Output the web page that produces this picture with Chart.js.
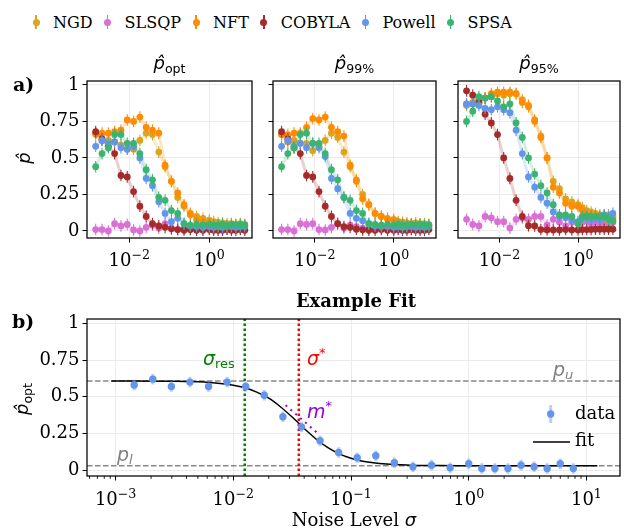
<!DOCTYPE html>
<html>
<head>
<meta charset="utf-8">
<script src="https://cdn.jsdelivr.net/npm/chart.js@4.4.0/dist/chart.umd.min.js"></script>
<style>
body { margin: 0; background: #fff; width: 624px; height: 531px; position: relative; overflow: hidden; font-family: 'DejaVu Serif', serif; }
canvas { position: absolute; }
#legend { position: absolute; left: 29px; top: 10px; height: 24px; display: flex; align-items: center; font-size: 16px; color: #000; }
.item { display: flex; align-items: center; margin-right: 8px; }
.mk { position: relative; width: 14px; height: 20px; margin-right: 10px; }
.mk::before { content: ''; position: absolute; left: 6.3px; top: 3px; width: 1.4px; height: 14px; background: var(--c); }
.mk::after { content: ''; position: absolute; left: 3.5px; top: 6.5px; width: 7px; height: 7px; border-radius: 50%; background: var(--c); }
</style>
</head>
<body>
<div id="legend"></div>
<canvas id="c1" width="256" height="230" style="left:0;top:40px"></canvas>
<canvas id="c2" width="182" height="230" style="left:258px;top:40px"></canvas>
<canvas id="c3" width="181" height="230" style="left:443px;top:40px"></canvas>
<canvas id="c4" width="624" height="251" style="left:0;top:280px"></canvas>
<script>
// noise levels (same grid for every panel)
const sigma = [0.001438, 0.002069, 0.002976, 0.004281, 0.006158, 0.008859, 0.01274, 0.01833, 0.02637,
  0.03793, 0.05456, 0.07848, 0.1129, 0.1624, 0.2336, 0.336, 0.4833, 0.6952, 1,
  1.292, 1.668, 2.154, 2.783, 3.594, 4.642, 5.995, 7.743];

const methods = ['NGD', 'SLSQP', 'NFT', 'COBYLA', 'Powell', 'SPSA'];
const colors = ['#DAA520', '#DA70D6', '#FF8C00', '#A52A2A', '#6495ED', '#3CB371'];
const titles = ['opt', '99%', '95%'];

// p_opt
const optNGD = [0.66, 0.62, 0.62, 0.61, 0.59, 0.56, 0.56, 0.62, 0.67, 0.66, 0.54, 0.44, 0.34, 0.23, 0.17, 0.11, 0.10, 0.087, 0.075, 0.064, 0.058, 0.055, 0.05, 0.05, 0.045, 0.05, 0.045];
const optSLSQP = [0.01, 0.01, 0.0, 0.05, 0.035, 0.045, 0.007, 0.0, 0.025, 0.04, 0.02, 0.05, 0.02, 0.01, 0.015, 0.01, 0.02, 0.015, 0.02, 0.01, 0.015, 0.02, 0.015, 0.01, 0.02, 0.015, 0.01];
const optNFT = [0.67, 0.67, 0.67, 0.68, 0.69, 0.76, 0.75, 0.78, 0.71, 0.69, 0.67, 0.45, 0.34, 0.26, 0.18, 0.12, 0.075, 0.064, 0.05, 0.045, 0.04, 0.04, 0.035, 0.04, 0.035, 0.04, 0.035];
const optCOBYLA = [0.68, 0.63, 0.58, 0.53, 0.38, 0.37, 0.27, 0.17, 0.10, 0.05, 0.035, 0.025, 0.015, 0.01, 0.005, 0.01, 0.005, 0.005, 0.01, 0.005, 0.005, 0.005, 0.01, 0.005, 0.005, 0.01, 0.005];
const optPowell = [0.58, 0.62, 0.60, 0.61, 0.57, 0.56, 0.58, 0.50, 0.36, 0.31, 0.20, 0.12, 0.064, 0.087, 0.05, 0.035, 0.03, 0.025, 0.03, 0.025, 0.03, 0.025, 0.03, 0.03, 0.025, 0.03, 0.03];
const optSPSA = [0.44, 0.53, 0.57, 0.66, 0.66, 0.60, 0.60, 0.53, 0.42, 0.35, 0.23, 0.21, 0.14, 0.12, 0.05, 0.04, 0.045, 0.04, 0.045, 0.04, 0.04, 0.045, 0.035, 0.045, 0.04, 0.045, 0.04];

// p_99%
const p99NGD = [0.66, 0.61, 0.62, 0.60, 0.60, 0.55, 0.58, 0.62, 0.67, 0.64, 0.54, 0.44, 0.35, 0.25, 0.18, 0.12, 0.10, 0.087, 0.08, 0.065, 0.06, 0.055, 0.05, 0.055, 0.05, 0.05, 0.045];
const p99SLSQP = [0.01, 0.01, 0.0, 0.05, 0.045, 0.05, 0.01, 0.007, 0.025, 0.05, 0.02, 0.04, 0.03, 0.02, 0.015, 0.02, 0.015, 0.02, 0.01, 0.015, 0.02, 0.015, 0.01, 0.02, 0.015, 0.01, 0.02];
const p99NFT = [0.66, 0.66, 0.67, 0.67, 0.71, 0.77, 0.76, 0.78, 0.71, 0.68, 0.65, 0.45, 0.34, 0.22, 0.18, 0.12, 0.10, 0.08, 0.07, 0.055, 0.05, 0.045, 0.045, 0.04, 0.045, 0.04, 0.04];
const p99COBYLA = [0.68, 0.63, 0.57, 0.53, 0.38, 0.37, 0.27, 0.17, 0.10, 0.05, 0.03, 0.025, 0.012, 0.008, 0.005, 0.005, 0.01, 0.005, 0.005, 0.01, 0.005, 0.005, 0.01, 0.005, 0.005, 0.005, 0.01];
const p99Powell = [0.58, 0.62, 0.58, 0.60, 0.57, 0.60, 0.57, 0.51, 0.36, 0.29, 0.23, 0.12, 0.087, 0.07, 0.05, 0.035, 0.03, 0.03, 0.025, 0.03, 0.025, 0.03, 0.03, 0.025, 0.03, 0.025, 0.03];
const p99SPSA = [0.44, 0.53, 0.57, 0.66, 0.67, 0.60, 0.60, 0.53, 0.42, 0.35, 0.23, 0.21, 0.14, 0.12, 0.05, 0.045, 0.04, 0.045, 0.04, 0.045, 0.04, 0.04, 0.045, 0.04, 0.045, 0.04, 0.04];

// p_95%
const p95NGD = [0.86, 0.87, 0.88, 0.91, 0.92, 0.94, 0.93, 0.94, 0.94, 0.90, 0.85, 0.75, 0.65, 0.50, 0.34, 0.29, 0.22, 0.20, 0.18, 0.16, 0.14, 0.13, 0.12, 0.11, 0.11, 0.11, 0.10];
const p95SLSQP = [0.08, 0.045, 0.035, 0.10, 0.09, 0.064, 0.064, 0.02, 0.08, 0.09, 0.08, 0.10, 0.10, 0.04, 0.08, 0.06, 0.035, 0.06, 0.05, 0.06, 0.07, 0.05, 0.06, 0.05, 0.06, 0.05, 0.06];
const p95NFT = [0.87, 0.88, 0.90, 0.91, 0.94, 0.95, 0.95, 0.95, 0.94, 0.88, 0.86, 0.76, 0.64, 0.50, 0.30, 0.26, 0.19, 0.17, 0.17, 0.14, 0.11, 0.10, 0.09, 0.09, 0.085, 0.09, 0.085];
const p95COBYLA = [0.96, 0.93, 0.88, 0.80, 0.74, 0.66, 0.50, 0.36, 0.21, 0.10, 0.036, 0.034, 0.01, 0.007, 0.007, 0.007, 0.01, 0.007, 0.007, 0.01, 0.01, 0.01, 0.012, 0.012, 0.012, 0.012, 0.012];
const p95Powell = [0.87, 0.87, 0.86, 0.84, 0.83, 0.85, 0.83, 0.81, 0.69, 0.53, 0.37, 0.30, 0.23, 0.19, 0.13, 0.10, 0.09, 0.075, 0.064, 0.087, 0.10, 0.075, 0.087, 0.075, 0.11, 0.10, 0.12];
const p95SPSA = [0.75, 0.82, 0.92, 0.91, 0.92, 0.89, 0.85, 0.87, 0.74, 0.64, 0.50, 0.39, 0.31, 0.26, 0.18, 0.11, 0.11, 0.10, 0.05, 0.10, 0.10, 0.10, 0.10, 0.10, 0.10, 0.08, 0.07];

const topErr = 0.04;

// example fit (Powell, p_opt)
const fitData = [0.58, 0.62, 0.57, 0.60, 0.57, 0.60, 0.57, 0.51, 0.364, 0.295, 0.20, 0.12, 0.084, 0.098, 0.05, 0.023, 0.034, 0.016, 0.043, 0.011, 0.011, 0.011, 0.034, 0.023, 0.011, 0.043, 0.011];
const fitErr = 0.036;
const fitSigma = [0.00092, 0.00316, 0.00562, 0.01, 0.0126, 0.0158, 0.02, 0.0251, 0.0316, 0.036, 0.0398, 0.0501, 0.0631, 0.0794, 0.1, 0.126, 0.2, 0.316, 0.562, 1, 3.16, 12.4];
const fitCurve = [0.608, 0.606, 0.600, 0.579, 0.561, 0.532, 0.49, 0.432, 0.362, 0.319, 0.285, 0.214, 0.155, 0.111, 0.081, 0.061, 0.041, 0.034, 0.031, 0.0305, 0.030, 0.030];
const pUpper = 0.608;
const pLower = 0.03;
const sigmaRes = 0.0125;
const sigmaStar = 0.036;
const slopeSigma = [0.0278, 0.0531];
const slopeP = [0.443, 0.245];

const yTicks = [0, 0.25, 0.5, 0.75, 1];
const yTickText = ['0', '0.25', '0.5', '0.75', '1'];
const topXTicks = [0.01, 1];
const bottomXTicks = [0.001, 0.01, 0.1, 1, 10];

const expOf = v => String(Math.round(Math.log10(v))).replace('-', '\u2212');
const fade = (hex, a) => { const n = parseInt(hex.slice(1), 16); return `rgba(${n >> 16},${(n >> 8) & 255},${n & 255},${a})`; };

const tickFont = { family: 'DejaVu Serif', size: 18 };
const gridColor = '#ebebeb';
const SANS = '"DejaVu Sans"';
const SERIF = '"DejaVu Serif"';

// legend (html)
const legendEl = document.getElementById('legend');
methods.forEach((m, i) => {
  const it = document.createElement('div');
  it.className = 'item';
  it.innerHTML = `<span class="mk" style="--c:${colors[i]}"></span><span>${m}</span>`;
  legendEl.appendChild(it);
});

function mathText(ctx, x, y, parts, align) {
  let w = 0;
  parts.forEach(p => { ctx.font = p[1]; w += ctx.measureText(p[0]).width; });
  let cx = align === 'center' ? x - w / 2 : x;
  ctx.textAlign = 'left';
  ctx.textBaseline = 'alphabetic';
  parts.forEach(p => { ctx.font = p[1]; ctx.fillText(p[0], cx, y + p[2]); cx += ctx.measureText(p[0]).width; });
}

// power-of-ten labels under the x axis
function powerLabels(chart, values, baseline) {
  const ctx = chart.ctx;
  ctx.save();
  ctx.fillStyle = '#000';
  values.forEach(v => {
    const px = chart.scales.x.getPixelForValue(v);
    mathText(ctx, px, baseline, [['10', `18px ${SERIF}`, 0], [expOf(v), `12.6px ${SERIF}`, -6.8]], 'center');
  });
  ctx.restore();
}

const errorBars = {
  id: 'errorBars',
  beforeDatasetDraw(chart, args) {
    const ds = chart.data.datasets[args.index];
    if (!ds.errors) return;
    const y = chart.scales.y, ctx = chart.ctx;
    ctx.save();
    ctx.strokeStyle = ds.errColor;
    ctx.lineWidth = ds.errWidth;
    args.meta.data.forEach((pt, i) => {
      const v = ds.data[i].y, e = ds.errors[i];
      ctx.beginPath();
      ctx.moveTo(pt.x, y.getPixelForValue(v - e));
      ctx.lineTo(pt.x, y.getPixelForValue(v + e));
      ctx.stroke();
    });
    ctx.restore();
  }
};

const frame = {
  id: 'frame',
  afterDraw(chart) {
    const { ctx, chartArea: a } = chart;
    ctx.save();
    ctx.strokeStyle = '#000';
    ctx.lineWidth = 1.25;
    ctx.strokeRect(a.left, a.top, a.right - a.left, a.bottom - a.top);
    ctx.restore();
  }
};

function topChart(id, series, sub, first, padRight) {
  const deco = {
    id: 'deco',
    afterDraw(chart) {
      const { ctx, chartArea: a } = chart;
      powerLabels(chart, topXTicks, 225.7);
      ctx.save();
      ctx.fillStyle = '#000';
      mathText(ctx, (a.left + a.right) / 2, 29, [['p\u0302', `italic 18px ${SANS}`, 0], [sub, `12.6px ${SANS}`, 3.5]], 'center');
      if (first) {
        ctx.font = `bold 19px ${SERIF}`;
        ctx.textBaseline = 'middle';
        ctx.fillText('a)', 13, 46);
        ctx.translate(29.5, 118);
        ctx.rotate(-Math.PI / 2);
        mathText(ctx, 0, 0, [['p\u0302', `italic 18px ${SANS}`, 0]], 'center');
      }
      ctx.restore();
    }
  };
  return new Chart(document.getElementById(id), {
    type: 'line',
    data: {
      datasets: methods.map((m, i) => ({
        label: m,
        data: sigma.map((s, k) => ({ x: s, y: series[i][k] })),
        errors: sigma.map(() => topErr),
        errColor: colors[i],
        errWidth: 1.1,
        borderColor: fade(colors[i], 0.22),
        borderWidth: 3,
        pointBackgroundColor: colors[i],
        pointBorderWidth: 0,
        pointRadius: 3.4,
        order: methods.length - i
      }))
    },
    options: {
      responsive: false,
      animation: false,
      events: [],
      layout: { padding: { top: 41, right: padRight, left: 0, bottom: 0 } },
      plugins: { legend: { display: false }, tooltip: { enabled: false } },
      scales: {
        x: {
          type: 'logarithmic', min: 8.71e-4, max: 11.75,
          afterBuildTicks: s => { s.ticks = topXTicks.map(v => ({ value: v })); },
          afterFit: s => { s.height = 32; },
          ticks: { display: false },
          grid: { color: gridColor, tickColor: '#000', tickLength: 4.5 },
          border: { display: false }
        },
        y: {
          min: -0.048, max: 1.027,
          afterBuildTicks: s => { s.ticks = yTicks.map(v => ({ value: v })); },
          afterFit: s => { s.width = first ? 87 : 15; },
          ticks: { font: tickFont, color: '#000', padding: 3, callback: (v, i) => first ? yTickText[i] : '' },
          grid: { color: gridColor, tickColor: '#000', tickLength: 4.5 },
          border: { display: false }
        }
      }
    },
    plugins: [errorBars, frame, deco]
  });
}

topChart('c1', [optNGD, optSLSQP, optNFT, optCOBYLA, optPowell, optSPSA], titles[0], true, 3);
topChart('c2', [p99NGD, p99SLSQP, p99NFT, p99COBYLA, p99Powell, p99SPSA], titles[1], false, 3);
topChart('c3', [p95NGD, p95SLSQP, p95NFT, p95COBYLA, p95Powell, p95SPSA], titles[2], false, 2);

// bottom panel
const xMin = 5.71e-4, xMax = 19.3, yMin = -0.04, yMax = 1.03;
const minorTicks = [];
for (let e = -4; e <= 1; e++) for (let m = 2; m <= 9; m++) {
  const v = m * Math.pow(10, e);
  if (v > xMin && v < xMax) minorTicks.push(v);
}

const bottomDeco = {
  id: 'bottomDeco',
  afterDraw(chart) {
    const { ctx, chartArea: a, scales } = chart;
    powerLabels(chart, bottomXTicks, 225);
    ctx.save();
    // minor ticks
    ctx.strokeStyle = '#000';
    ctx.lineWidth = 0.9;
    minorTicks.forEach(v => {
      const px = scales.x.getPixelForValue(v);
      ctx.beginPath(); ctx.moveTo(px, a.bottom); ctx.lineTo(px, a.bottom + 2.8); ctx.stroke();
    });
    ctx.fillStyle = '#000';
    ctx.font = `bold 19px ${SERIF}`;
    ctx.textBaseline = 'middle';
    ctx.textAlign = 'left';
    ctx.fillText('b)', 12, 43);
    ctx.font = `bold 18px ${SERIF}`;
    ctx.textAlign = 'center';
    ctx.fillText('Example Fit', 356, 22);
    mathText(ctx, 354, 246, [['Noise Level ', `18px ${SERIF}`, 0], ['\u03C3', `italic 18px ${SANS}`, 0]], 'center');
    ctx.save();
    ctx.translate(28, 119);
    ctx.rotate(-Math.PI / 2);
    mathText(ctx, 0, 0, [['p\u0302', `italic 18px ${SANS}`, 0], ['opt', `12.6px ${SANS}`, 3.5]], 'center');
    ctx.restore();
    // annotations
    ctx.fillStyle = '#008000';
    mathText(ctx, 203, 85, [['\u03C3', `italic 19px ${SANS}`, 0], ['res', `13px ${SANS}`, 3]], 'left');
    ctx.fillStyle = '#FF0000';
    mathText(ctx, 307, 85, [['\u03C3', `italic 19px ${SANS}`, 0], ['*', `13px ${SANS}`, -8]], 'left');
    ctx.fillStyle = '#9400D3';
    mathText(ctx, 307, 138, [['m', `italic 19px ${SANS}`, 0], ['*', `13px ${SANS}`, -8]], 'left');
    ctx.fillStyle = '#808080';
    mathText(ctx, 553, 96, [['p', `italic 19px ${SANS}`, 0], ['u', `italic 13px ${SANS}`, 3]], 'left');
    mathText(ctx, 117, 180.7, [['p', `italic 19px ${SANS}`, 0], ['l', `italic 13px ${SANS}`, 3]], 'left');
    // legend
    ctx.strokeStyle = fade('#6495ED', 0.45);
    ctx.lineWidth = 3;
    ctx.beginPath(); ctx.moveTo(550.7, 125); ctx.lineTo(550.7, 143); ctx.stroke();
    ctx.fillStyle = '#6495ED';
    ctx.beginPath(); ctx.arc(550.7, 134, 3.7, 0, Math.PI * 2); ctx.fill();
    ctx.strokeStyle = '#000';
    ctx.lineWidth = 1.5;
    ctx.beginPath(); ctx.moveTo(533, 162); ctx.lineTo(570, 162); ctx.stroke();
    ctx.fillStyle = '#000';
    ctx.font = `18px ${SERIF}`;
    ctx.textAlign = 'left';
    ctx.textBaseline = 'middle';
    ctx.fillText('data', 575, 134);
    ctx.fillText('fit', 575, 161);
    ctx.restore();
  }
};

const lineDs = (data, color, width, dash, order) => ({
  data, borderColor: color, borderWidth: width, borderDash: dash, pointRadius: 0, order
});

new Chart(document.getElementById('c4'), {
  type: 'line',
  data: {
    datasets: [
      lineDs([{ x: xMin, y: pUpper }, { x: xMax, y: pUpper }], '#888888', 1.5, [5.5, 2.5], 6),
      lineDs([{ x: xMin, y: pLower }, { x: xMax, y: pLower }], '#888888', 1.5, [5.5, 2.5], 6),
      lineDs([{ x: sigmaRes, y: yMin }, { x: sigmaRes, y: yMax }], '#008000', 2.5, [2.5, 2.5], 5),
      lineDs([{ x: sigmaStar, y: yMin }, { x: sigmaStar, y: yMax }], '#FF0000', 2.5, [2.5, 2.5], 5),
      Object.assign(lineDs(fitSigma.map((s, i) => ({ x: s, y: fitCurve[i] })), '#000', 1.5, [], 3), { cubicInterpolationMode: 'monotone' }),
      lineDs(slopeSigma.map((s, i) => ({ x: s, y: slopeP[i] })), '#9400D3', 2, [2, 4.5], 2),
      {
        data: sigma.map((s, k) => ({ x: s, y: fitData[k] })),
        errors: sigma.map(() => fitErr),
        errColor: fade('#6495ED', 0.45),
        errWidth: 3,
        showLine: false,
        pointBackgroundColor: '#6495ED',
        pointBorderWidth: 0,
        pointRadius: 3.7,
        order: 1
      }
    ]
  },
  options: {
    responsive: false,
    animation: false,
    events: [],
    layout: { padding: { top: 39, right: 2, left: 0, bottom: 0 } },
    plugins: { legend: { display: false }, tooltip: { enabled: false } },
    scales: {
      x: {
        type: 'logarithmic', min: xMin, max: xMax,
        afterBuildTicks: s => { s.ticks = bottomXTicks.map(v => ({ value: v })); },
        afterFit: s => { s.height = 55; },
        ticks: { display: false },
        grid: { color: gridColor, tickColor: '#000', tickLength: 4.5 },
        border: { display: false }
      },
      y: {
        min: yMin, max: yMax,
        afterBuildTicks: s => { s.ticks = yTicks.map(v => ({ value: v })); },
        afterFit: s => { s.width = 87; },
        ticks: { font: tickFont, color: '#000', padding: 3, callback: (v, i) => yTickText[i] },
        grid: { color: gridColor, tickColor: '#000', tickLength: 4.5 },
        border: { display: false }
      }
    }
  },
  plugins: [errorBars, frame, bottomDeco]
});
</script>
</body>
</html>
